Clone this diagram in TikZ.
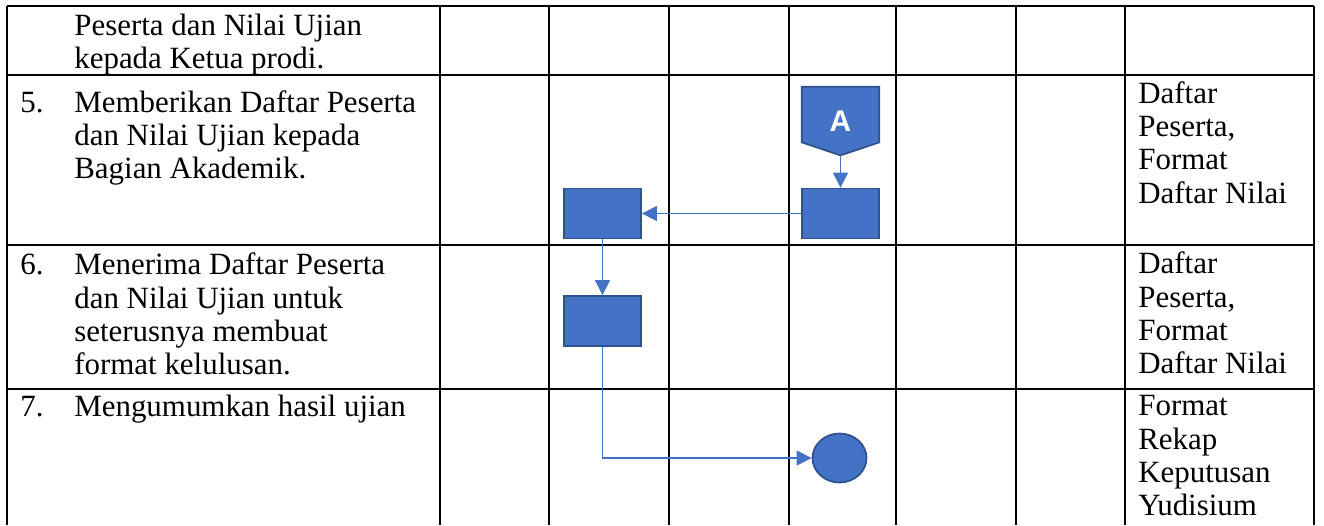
\documentclass[tikz,border=0pt]{standalone}
\usepackage{fontspec}
\setmainfont{Liberation Serif}
\newfontfamily\labelfont{Liberation Sans}
\usepackage{tikz}
\usetikzlibrary{positioning,shapes.geometric,arrows.meta,backgrounds,calc}
\definecolor{flowblue}{HTML}{4472C4}
\definecolor{flowedge}{HTML}{2F528F}

\begin{document}
\begin{tikzpicture}[
  x=0.02cm, y=-0.02cm,
  gridline/.style={line width=1.2pt, black},
  cell/.style={anchor=north west, inner sep=0pt, align=left,
               font=\fontsize{17.6pt}{19pt}\selectfont},
  procbox/.style={draw=flowedge, fill=flowblue, line width=1pt,
                  minimum width=1.54cm, minimum height=1cm, inner sep=0pt},
  endnode/.style={ellipse, draw=flowedge, fill=flowblue, line width=1pt,
                  minimum width=1.08cm, minimum height=0.98cm, inner sep=0pt},
  flow/.style={-{Triangle[length=8.6pt, width=8.6pt]}, flowblue, line width=0.6pt},
]
  \useasboundingbox (0,0) rectangle (1324,525);

  % Table grid
  \foreach \x in {7,440,549,669,789,896,1016,1125,1314}
    \draw[gridline] (\x,6) -- (\x,525);
  \foreach \y in {6,75,245,389}
    \draw[gridline] (7,\y) -- (1314,\y);

  % Row 4 (continued)
  \node[cell] (t4) at (74,11.5) {\strut Peserta dan Nilai Ujian\\kepada Ketua prodi.};

  % Row 5
  \node[cell] (n5) at (20,88.5) {\strut 5.};
  \node[cell] (t5) at (74,88.5)
    {\strut Memberikan Daftar Peserta\\dan Nilai Ujian kepada\\Bagian Akademik.};
  \node[cell] (d5) at (1138,79.5) {\strut Daftar\\Peserta,\\Format\\Daftar Nilai};

  % Row 6
  \node[cell] (n6) at (20,251) {\strut 6.};
  \node[cell] (t6) at (74,251)
    {\strut Menerima Daftar Peserta\\dan Nilai Ujian untuk\\seterusnya membuat\\format kelulusan.};
  \node[cell] (d6) at (1138,250) {\strut Daftar\\Peserta,\\Format\\Daftar Nilai};

  % Row 7
  \node[cell] (n7) at (20,393) {\strut 7.};
  \node[cell] (t7) at (74,393) {\strut Mengumumkan hasil ujian};
  \node[cell] (d7) at (1138,392) {\strut Format\\Rekap\\Keputusan\\Yudisium};

  % Off-page connector A
  \node[minimum width=1.54cm, minimum height=1.36cm, inner sep=0pt, text=white,
        font=\labelfont\bfseries\fontsize{17pt}{20pt}\selectfont] (conA) at (840.5,121) {A};
  \begin{pgfonlayer}{background}
    \draw[fill=flowblue, draw=flowedge, line width=1pt]
      (conA.north west) -- (conA.north east) -- ($(conA.south east)+(0,-13)$)
      -- (conA.south) -- ($(conA.south west)+(0,-13)$) -- cycle;
  \end{pgfonlayer}

  % Process boxes
  \node[procbox] (kirim) at (840.5,213.5) {};
  \node[procbox] (terima) at (602.5,213.5) {};
  \node[procbox] (kelulusan) at (602.5,321) {};
  \node[endnode] (umum) at (839.5,458) {};

  % Arrows
  \draw[flow] (conA) -- (kirim);
  \draw[flow] (kirim) -- (terima);
  \draw[flow] (terima) -- (kelulusan);
  \draw[flow] (kelulusan.south) |- (umum.west);
\end{tikzpicture}
\end{document}
